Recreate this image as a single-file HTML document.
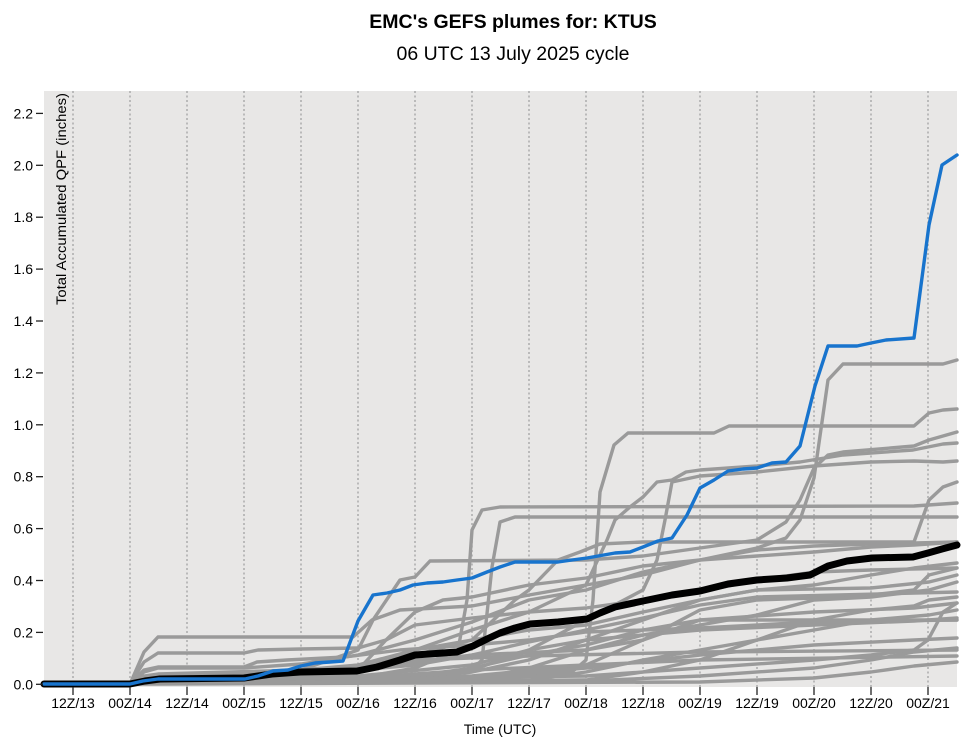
<!DOCTYPE html>
<html><head><meta charset="utf-8"><style>
html,body{margin:0;padding:0;background:#fff;}
svg{display:block;}
text{font-family:"Liberation Sans",Arial,sans-serif;fill:#000;}
</style></head><body>
<svg width="973" height="741" viewBox="0 0 973 741" xmlns="http://www.w3.org/2000/svg">
<rect x="0" y="0" width="973" height="741" fill="#ffffff"/>
<text x="513" y="28" font-size="19.5" font-weight="bold" text-anchor="middle">EMC's GEFS plumes for: KTUS</text>
<text x="513" y="60" font-size="19.5" text-anchor="middle">06 UTC 13 July 2025 cycle</text>
<rect x="44" y="91" width="913" height="596" fill="#e8e7e6"/>
<g stroke="#ababab" stroke-width="1.5" stroke-dasharray="2,2.5">
<line x1="73" y1="91" x2="73" y2="687"/><line x1="130" y1="91" x2="130" y2="687"/><line x1="187" y1="91" x2="187" y2="687"/><line x1="244" y1="91" x2="244" y2="687"/><line x1="301" y1="91" x2="301" y2="687"/><line x1="358" y1="91" x2="358" y2="687"/><line x1="415" y1="91" x2="415" y2="687"/><line x1="472" y1="91" x2="472" y2="687"/><line x1="529" y1="91" x2="529" y2="687"/><line x1="586" y1="91" x2="586" y2="687"/><line x1="643" y1="91" x2="643" y2="687"/><line x1="700" y1="91" x2="700" y2="687"/><line x1="757" y1="91" x2="757" y2="687"/><line x1="814" y1="91" x2="814" y2="687"/><line x1="871" y1="91" x2="871" y2="687"/><line x1="928" y1="91" x2="928" y2="687"/>
</g>
<text x="66" y="93" font-size="13.5" text-anchor="end" transform="rotate(-90 66 93)" textLength="212" lengthAdjust="spacingAndGlyphs">Total Accumulated QPF (inches)</text>
<g fill="none" stroke="#9a9a9a" stroke-width="3.4" stroke-linejoin="round" stroke-linecap="round">
<polyline points="44,684 130,684 144,672 158,668 244,668 301,664 358,655 415,640 472,622 529,600 586,590 643,572 700,560 757,548 786,538 800,520 814,478 828,380 843,364 943,364 957,360"/>
<polyline points="44,684 130,684 144,681 158,679 472,679 529,676 572,672 586,660 593,600 600,492 614,445 628,433 714,433 729,426 914,426 929,413 943,410 957,409"/>
<polyline points="44,684 130,684 144,680 158,678 358,678 415,668 458,650 467,600 472,530 482,510 500,507 914,506 957,503"/>
<polyline points="44,684 130,684 144,681 158,680 415,676 472,670 482,660 492,567 500,522 515,517 957,517"/>
<polyline points="44,684 130,684 144,676 158,674 301,670 358,650 373,620 400,580 415,577 430,561 586,560 643,556 700,548 757,540 786,522 800,500 814,468 828,455 843,452 914,446 929,440 957,432"/>
<polyline points="44,684 130,684 144,679 158,678 301,676 358,668 415,650 472,630 529,612 586,585 600,555 607,540 615,520 630,507 643,497 657,482 672,480 686,472 700,470 757,466 800,462 843,455 913,450 943,444 957,443"/>
<polyline points="44,684 130,684 144,681 158,680 358,679 472,670 529,650 586,620 643,590 657,560 665,520 672,482 700,476 757,472 814,466 871,462 914,461 943,462 957,461"/>
<polyline points="44,684 130,684 144,680 158,678 301,676 358,672 415,655 472,640 515,600 529,590 558,560 580,552 600,544 643,542 914,542 929,500 943,487 957,482"/>
<polyline points="44,684 130,684 144,682 158,680 415,678 472,672 529,660 586,640 643,620 700,600 757,590 814,585 871,575 914,568 957,563"/>
<polyline points="44,684 130,684 158,681 358,680 472,676 586,665 643,640 700,610 757,600 814,598 871,595 914,590 929,575 957,568"/>
<polyline points="44,684 130,684 158,676 244,676 301,672 358,665 415,650 472,640 529,630 586,625 643,612 700,600 757,590 871,588 929,582 957,575"/>
<polyline points="44,684 130,684 158,682 472,680 529,668 586,650 643,635 700,625 757,615 814,600 871,597 929,590 957,582"/>
<polyline points="44,684 130,684 158,678 301,675 415,665 472,655 529,642 586,630 643,618 700,605 757,597 957,592"/>
<polyline points="44,684 130,684 158,683 586,680 643,672 700,660 757,640 814,620 871,610 914,606 929,600 957,597"/>
<polyline points="44,684 130,684 158,680 415,676 472,668 529,655 586,645 643,630 700,620 814,612 914,608 957,603"/>
<polyline points="44,684 130,684 158,683 529,680 586,672 643,660 700,650 757,640 814,630 871,620 929,615 957,610"/>
<polyline points="44,684 130,684 158,679 358,676 472,665 529,650 586,640 700,630 814,625 914,621 957,618"/>
<polyline points="44,684 130,684 158,681 586,676 700,668 814,660 871,655 914,650 928,640 943,612 957,603"/>
<polyline points="44,684 130,684 158,682 472,678 586,668 700,655 814,645 914,640 957,638"/>
<polyline points="44,684 130,684 158,683 586,681 700,676 814,668 871,660 914,652 957,648"/>
<polyline points="44,684 130,684 158,684 700,682 814,678 871,672 914,666 957,662"/>
<polyline points="44,684 130,684 158,675 244,674 301,670 415,660 529,656 700,652 957,650"/>
<polyline points="44,684 130,684 158,680 358,678 472,670 586,665 700,660 957,656"/>
<polyline points="44,684 130,684 158,677 244,675 301,674 358,670 415,662 472,655 586,650 643,640 686,625 700,620 957,620"/>
<polyline points="44,684 130,684 144,652 158,637 353,637 372,620 400,610 472,606 529,595 586,585 643,575 700,560 757,550 814,546 871,544 957,542"/>
<polyline points="44,684 130,684 144,662 158,653 244,653 258,650 301,649 358,648 386,640 415,625 472,618 529,612 586,608 643,600 700,592 757,580 814,572 871,570 957,568"/>
<polyline points="44,684 130,684 144,681 158,679 301,677 358,670 386,640 415,612 443,600 472,597 529,585 586,578 643,566 700,560 757,556 814,552 871,547 914,545 957,542"/>
<polyline points="44,684 130,684 144,670 158,667 244,667 257,662 287,660 345,657 400,650 472,645 529,640 586,632 700,628 814,622 957,620"/>
</g>
<polyline fill="none" stroke="#000000" stroke-width="7" stroke-linejoin="round" stroke-linecap="round" points="44,684 130,684 145,681 160,679 244,678 272,674 300,672 357,671 377,667 400,660 415,655 457,652 473,646 487,639 500,633 515,628 530,624 558,622 587,619 600,613 615,607 643,601 672,595 700,591 728,584 757,580 787,578 810,575 828,566 847,561 872,558 913,557 928,553 942,549 957,545"/>
<polyline fill="none" stroke="#1874cd" stroke-width="3.4" stroke-linejoin="round" stroke-linecap="round" points="44,684 130,684 143,681 158,679 245,679 258,676 273,671 288,670 301,666 315,663 330,662 343,661 358,621 373,595 387,593 400,590 413,585 427,583 443,582 457,580 472,578 487,572 500,567 515,562 558,562 572,560 587,558 615,553 630,552 643,547 658,541 672,538 687,515 700,488 714,480 728,471 743,469 757,468 772,463 786,462 800,446 815,386 828,346 857,346 871,343 886,340 914,338 929,225 942,165 957,155"/>
<g stroke="#222" stroke-width="1.3">
<line x1="36" y1="684.3" x2="43" y2="684.3"/><line x1="36" y1="632.4" x2="43" y2="632.4"/><line x1="36" y1="580.5" x2="43" y2="580.5"/><line x1="36" y1="528.6" x2="43" y2="528.6"/><line x1="36" y1="476.7" x2="43" y2="476.7"/><line x1="36" y1="424.8" x2="43" y2="424.8"/><line x1="36" y1="372.9" x2="43" y2="372.9"/><line x1="36" y1="321" x2="43" y2="321"/><line x1="36" y1="269.1" x2="43" y2="269.1"/><line x1="36" y1="217.2" x2="43" y2="217.2"/><line x1="36" y1="165.3" x2="43" y2="165.3"/><line x1="36" y1="113.4" x2="43" y2="113.4"/>
<line x1="73" y1="687" x2="73" y2="695"/><line x1="130" y1="687" x2="130" y2="695"/><line x1="187" y1="687" x2="187" y2="695"/><line x1="244" y1="687" x2="244" y2="695"/><line x1="301" y1="687" x2="301" y2="695"/><line x1="358" y1="687" x2="358" y2="695"/><line x1="415" y1="687" x2="415" y2="695"/><line x1="472" y1="687" x2="472" y2="695"/><line x1="529" y1="687" x2="529" y2="695"/><line x1="586" y1="687" x2="586" y2="695"/><line x1="643" y1="687" x2="643" y2="695"/><line x1="700" y1="687" x2="700" y2="695"/><line x1="757" y1="687" x2="757" y2="695"/><line x1="814" y1="687" x2="814" y2="695"/><line x1="871" y1="687" x2="871" y2="695"/><line x1="928" y1="687" x2="928" y2="695"/>
</g>
<g font-size="14" text-anchor="end">
<text x="33" y="689.3">0.0</text><text x="33" y="637.4">0.2</text><text x="33" y="585.5">0.4</text><text x="33" y="533.6">0.6</text><text x="33" y="481.7">0.8</text><text x="33" y="429.8">1.0</text><text x="33" y="377.9">1.2</text><text x="33" y="326">1.4</text><text x="33" y="274.1">1.6</text><text x="33" y="222.2">1.8</text><text x="33" y="170.3">2.0</text><text x="33" y="118.4">2.2</text>
</g>
<g font-size="14" text-anchor="middle">
<text x="73" y="708">12Z/13</text><text x="130" y="708">00Z/14</text><text x="187" y="708">12Z/14</text><text x="244" y="708">00Z/15</text><text x="301" y="708">12Z/15</text><text x="358" y="708">00Z/16</text><text x="415" y="708">12Z/16</text><text x="472" y="708">00Z/17</text><text x="529" y="708">12Z/17</text><text x="586" y="708">00Z/18</text><text x="643" y="708">12Z/18</text><text x="700" y="708">00Z/19</text><text x="757" y="708">12Z/19</text><text x="814" y="708">00Z/20</text><text x="871" y="708">12Z/20</text><text x="928" y="708">00Z/21</text>
</g>
<text x="500" y="734" font-size="14" text-anchor="middle">Time (UTC)</text>
</svg>
</body></html>
